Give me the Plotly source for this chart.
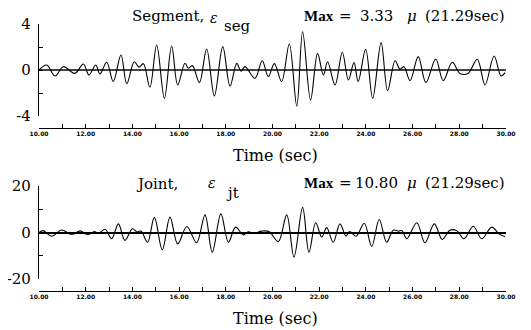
import plotly.graph_objects as go

# ---- data (extrema of each trace) ----
t_seg = [10.00, 10.33, 10.69, 11.04, 11.54, 11.90, 12.14, 12.43, 12.61, 12.90, 13.18, 13.51, 13.76,
         14.08, 14.28, 14.47, 14.75, 15.04, 15.37, 15.68, 15.94, 16.25, 16.40, 16.57, 16.87, 17.18,
         17.51, 17.87, 18.18, 18.47, 18.65, 18.82, 19.25, 19.56, 19.82, 20.08, 20.39, 20.72, 21.04,
         21.29, 21.63, 21.93, 22.18, 22.36, 22.68, 22.99, 23.25, 23.49, 23.67, 23.99, 24.29, 24.65,
         24.93, 25.25, 25.46, 25.63, 25.89, 26.24, 26.57, 26.99, 27.31, 27.70, 28.03, 28.37, 28.77,
         29.10, 29.49, 29.79, 29.96]
v_seg = [0.0, 0.43, -0.52, 0.29, -0.29, 0.52, -0.43, 0.43, -0.35, 0.67, -1.0, 1.3, -1.2,
         0.72, 0.25, 0.55, -1.5, 2.17, -2.46, 2.09, -1.3, 0.58, 0.15, 0.38, -1.1, 1.83,
         -2.26, 2.03, -1.39, 0.58, -0.1, 0.29, -0.72, 0.81, -0.58, 0.55, -1.0, 2.26, -3.13,
         3.33, -2.6, 1.45, -0.43, 0.72, -1.3, 1.54, -0.87, 0.64, -1.0, 1.8, -2.46, 2.38,
         -1.8, 0.8, 0.06, 0.29, -0.93, 1.16, -1.1, 0.96, -0.93, 0.67, -0.3, -0.3, 0.93,
         -1.3, 1.22, -0.52, -0.23]

t_jt = [10.00, 10.18, 10.54, 10.97, 11.33, 11.50, 11.76, 12.09, 12.37, 12.55, 12.83, 13.11, 13.40,
        13.68, 14.00, 14.20, 14.37, 14.65, 14.94, 15.28, 15.61, 15.94, 16.33, 16.75, 17.11, 17.42,
        17.79, 18.11, 18.42, 18.75, 18.96, 19.20, 19.54, 19.85, 20.25, 20.61, 20.92, 21.29, 21.56,
        21.85, 22.11, 22.32, 22.60, 22.89, 23.15, 23.30, 23.58, 23.93, 24.25, 24.57, 24.89, 25.17,
        25.40, 25.55, 25.75, 26.18, 26.53, 26.93, 27.27, 27.60, 27.90, 28.20, 28.60, 28.96, 29.39,
        29.71, 29.96]
v_jt = [0.0, 0.8, -1.6, 1.1, -0.7, -0.6, 0.7, -1.0, 0.4, -0.4, 1.4, -2.7, 3.7,
        -3.4, 1.6, 0.2, 0.6, -4.2, 6.5, -7.4, 6.6, -4.9, 2.6, -4.4, 7.6, -8.5,
        8.0, -4.2, 2.3, -1.0, 0.3, -0.3, 0.6, 0.4, -3.9, 7.6, -10.6, 10.8, -8.5,
        4.2, -2.0, 2.1, -4.2, 3.7, -1.6, 0.4, -1.6, 4.0, -6.0, 5.6, -4.2, 1.0,
        0.6, 0.8, -2.7, 4.2, -4.4, 3.7, -3.0, 1.0, 0.7, -2.7, 2.7, -2.7, 2.3,
        -0.7, -1.8]

x_ticks = list(range(10, 31))
x_ticktext = [f"{v}.00" if v % 2 == 0 else "" for v in x_ticks]
seg_ticks = [-4, -2, 0, 2, 4]
seg_ticktext = ["-4", "", "0", "", "4"]
jt_ticks = [-20, -10, 0, 10, 20]
jt_ticktext = ["-20", "", "0", "", "20"]

W, H = 531, 330
OFF = 8  # page body margin offset
def px(x): return (x - OFF) / W
def py(y): return 1 - (y - OFF) / H

SERIF = "DejaVu Serif"
fig = go.Figure()
fig.add_trace(go.Scatter(x=t_seg, y=v_seg, mode="lines", xaxis="x", yaxis="y",
                         line=dict(color="black", width=1.1, shape="spline", smoothing=1.0)))
fig.add_trace(go.Scatter(x=t_jt, y=v_jt, mode="lines", xaxis="x2", yaxis="y2",
                         line=dict(color="black", width=1.1, shape="spline", smoothing=1.0)))

xdom = [px(39), px(506)]
def xax(pos):
    return dict(domain=xdom, range=[10, 30], anchor="free", position=pos, showline=True,
                linecolor="black", linewidth=1.2, ticks="inside", ticklen=4, tickcolor="black",
                tickwidth=1, tickvals=x_ticks, ticktext=x_ticktext, showgrid=False,
                zeroline=False,
                tickfont=dict(family="DejaVu Sans", size=6, color="black", weight="bold"))

def yax(dom, rng, tv, tt, zc, zw, xname):
    return dict(domain=dom, range=rng, anchor=xname, showline=True, linecolor="black",
                linewidth=1.3, ticks="inside", ticklen=4, tickcolor="black", tickvals=tv,
                ticktext=tt, showgrid=False, zeroline=True, zerolinecolor=zc, zerolinewidth=zw,
                tickfont=dict(family=SERIF, size=15, color="black"), ticklabelstandoff=4)

fig.update_layout(
    width=W, height=H, margin=dict(l=0, r=0, t=0, b=0, autoexpand=False),
    paper_bgcolor="white", plot_bgcolor="white", showlegend=False,
    xaxis=xax(py(128)),
    yaxis=yax([py(116), py(24)], [-4, 4], seg_ticks, seg_ticktext, "#444444", 2, "x"),
    xaxis2=xax(py(291)),
    yaxis2=yax([py(279), py(186)], [-20, 20], jt_ticks, jt_ticktext, "black", 1.5, "x2"),
)

def ann(text, x, y, size=16, xanchor="center", italic=False, bold=False, family=SERIF):
    fig.add_annotation(text=text, x=px(x), y=py(y), xref="paper", yref="paper",
                       xanchor=xanchor, yanchor="middle", showarrow=False,
                       font=dict(family=family, size=size, color="black",
                                 weight="bold" if bold else "normal",
                                 style="italic" if italic else "normal"))

def max_label(value, y):
    ann("Max", 302, y, size=15, xanchor="left", bold=True, family="Liberation Serif")
    ann("=", 345, y, size=15)
    ann(value, 376, y, size=15)
    ann("μ", 412, y, size=15, italic=True)
    ann("(21.29sec)", 423, y, size=15, xanchor="left")

# top panel titles
ann("Segment,", 168, 16, size=15)
ann("ε", 214, 18, size=14, italic=True)
ann("seg", 237, 26, size=15)
max_label("3.33", 16)
ann("Time (sec)", 275, 155)
# bottom panel titles
ann("Joint,", 157, 184, size=15)
ann("ε", 212, 183, size=14, italic=True)
ann("jt", 232, 193, size=15)
max_label("10.80", 183)
ann("Time (sec)", 275, 318)

fig.write_html("out.html")
